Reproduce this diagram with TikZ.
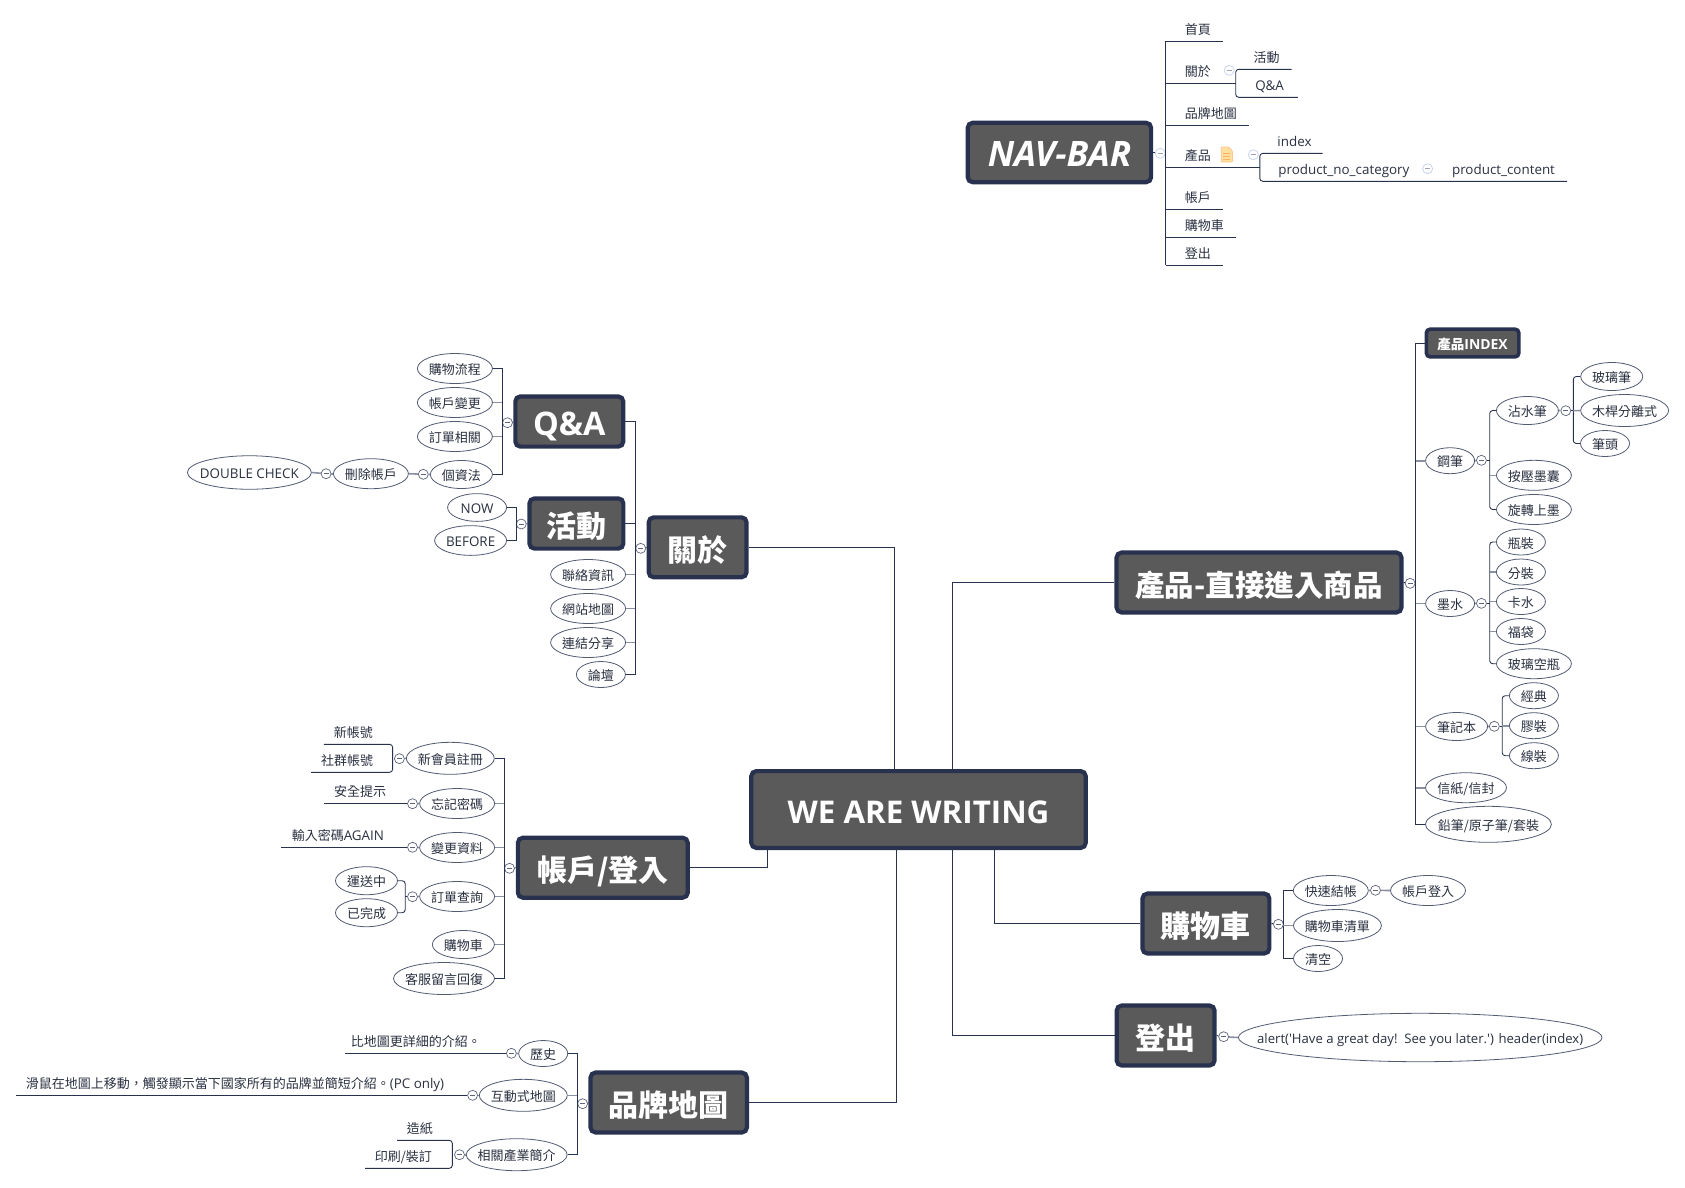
\documentclass[tikz,border=0pt]{standalone}
\usepackage{fontspec}
\setmainfont{Noto Sans CJK TC}
\newfontfamily\latinfont[Scale=1.03]{Open Sans}
\usetikzlibrary{shapes.geometric}
\definecolor{navy}{HTML}{28324F}
\definecolor{boxgray}{HTML}{5A5A5A}
\definecolor{stubgray}{HTML}{8A90A2}
\definecolor{inktext}{HTML}{2A3040}
\definecolor{paleblue}{HTML}{C4D0EC}
\begin{document}
\begin{tikzpicture}[x=1pt,y=-1pt,
    every node/.style={text=inktext,font=\fontsize{13}{15}\selectfont,text height=12.5pt,text depth=.5pt},
    topic/.style={draw=navy,fill=boxgray,line width=4.2pt,rounded corners=5pt,inner sep=0pt,text=white,font=\bfseries\fontsize{30}{36}\selectfont,text height=29.5pt,text depth=2.1pt},
    pill/.style={ellipse,draw=navy!80!white,line width=.8pt,fill=white,inner xsep=-42pt,inner ysep=-4pt},
    pilltwo/.style={pill,minimum width=49pt,minimum height=26pt},
    pillthree/.style={pill,minimum width=62pt,minimum height=28pt},
    pillfour/.style={pill,minimum width=75pt,minimum height=30pt},
    pillfive/.style={pill,minimum width=88pt,minimum height=32pt},
    pillsix/.style={pill,minimum width=101pt,minimum height=32pt},
    plain/.style={inner sep=0pt,text height=11.5pt,text depth=1.5pt},
    toggle/.style={circle,draw=navy!75!white,line width=.7pt,fill=white,inner sep=0pt,minimum size=10pt,text height=0pt,text depth=0pt,
        path picture={\draw[line width=.7pt,navy!75!white] ([xshift=-2.6pt]path picture bounding box.center) -- ([xshift=2.6pt]path picture bounding box.center);}},
    togglepale/.style={toggle,draw=paleblue,path picture={\draw[line width=.7pt,navy!45!white] ([xshift=-2.6pt]path picture bounding box.center) -- ([xshift=2.6pt]path picture bounding box.center);}},
    link/.style={draw=navy,line width=.9pt},
    roundlink/.style={link,rounded corners=3pt},
    stub/.style={draw=stubgray,line width=1.6pt}]
    \useasboundingbox (0,0) rectangle (1685,1187);

    % central topic and its branches
    \node[topic,minimum width=334.4pt,minimum height=76.8pt,font=\bfseries\fontsize{30.4}{36}\selectfont] (root) at (918.5,809.5) {\latinfont WE ARE WRITING};
    \node[topic,minimum width=97.9pt,minimum height=59.9pt] (about) at (697.6,547.3) {關於};
    \node[topic,minimum width=284.9pt,minimum height=59.9pt] (shop) at (1259,582.5) {\fontsize{29.5}{36}\selectfont 產品-直接進入商品};
    \node[topic,minimum width=169.9pt,minimum height=59.9pt] (account) at (602.8,867.7) {帳戶/登入};
    \node[topic,minimum width=126.9pt,minimum height=59.9pt] (cart) at (1205.9,923.5) {購物車};
    \node[topic,minimum width=97.9pt,minimum height=59.9pt] (logout) at (1165.6,1035.5) {登出};
    \node[topic,minimum width=156.4pt,minimum height=59.9pt] (brand) at (668.7,1102.5) {品牌地圖};
    \coordinate (rootA) at (894,769);
    \coordinate (rootB) at (952.7,769);
    \coordinate (rootC) at (767,850);
    \coordinate (rootD) at (896.3,850);
    \coordinate (rootE) at (952.7,850);
    \coordinate (rootF) at (994.3,850);
    \draw[link] (about.east) -| (rootA);
    \draw[link] (shop.west) -| (rootB);
    \draw[link] (account.east) -| (rootC);
    \draw[link] (brand.east) -| (rootD);
    \draw[link] (logout.west) -| (rootE);
    \draw[link] (cart.west) -| (rootF);

    % nav bar
    \node[topic,minimum width=183.4pt,minimum height=59.4pt,font=\bfseries\itshape\fontsize{34}{36}\selectfont] (nav) at (1059.4,152.5) {\latinfont NAV-BAR};
    \node[togglepale] (tgNav) at (1160.2,153.3) {};
    \draw[link] (nav.east) -- (tgNav);
    \node[plain] (navHome) at (1197.8,29.3) {首頁};
    \node[plain] (navAbout) at (1197.8,71.3) {關於};
    \node[plain] (navEvent) at (1266.7,57.3) {活動};
    \node[plain] (navQa) at (1269.6,85) {\latinfont Q\&A};
    \node[plain] (navBrand) at (1210.8,113) {品牌地圖};
    \node[plain] (navShop) at (1197.8,155.3) {產品};
    \node[plain] (navIndex) at (1294.5,141.7) {\latinfont index};
    \node[plain] (navNoCat) at (1343.9,169.7) {\latinfont product\_no\_category};
    \node[plain] (navContent) at (1503.5,169.7) {\latinfont product\_content};
    \node[plain] (navAccount) at (1197.8,197.3) {帳戶};
    \node[plain] (navCart) at (1204.3,225.7) {購物車};
    \node[plain] (navLogout) at (1197.8,253.3) {登出};
    \node[togglepale] (tgNavAbout) at (1229.2,70.3) {};
    \node[togglepale] (tgNavShop) at (1253.3,154.7) {};
    \node[togglepale] (tgNavNoCat) at (1427.6,168.7) {};
    \coordinate (navTop) at (1165.5,41.3);
    \coordinate (navBottom) at (1165.5,265.3);
    \draw[link] (navTop) -- (navBottom);
    \draw[link] (navTop) -- (1222.7,41.3);
    \draw[link] (navTop |- 0,83.3) -- (1235.7,83.3);
    \draw[roundlink] (1291.6,69.3) -| (1235.7,97.3) -- (1297.8,97.3);
    \draw[link] (navTop |- 0,125.3) -- (1248.8,125.3);
    \draw[link] (navTop |- 0,167.3) -- (1259.8,167.3);
    \draw[roundlink] (1322.7,153.3) -| (1259.8,181.3) -- (1567,181.3);
    \draw[link] (navTop |- 0,209.3) -- (1222.7,209.3);
    \draw[link] (navTop |- 0,237.3) -- (1235.7,237.3);
    \draw[link] (navBottom) -- (1222.7,265.3);
    % note icon
    \fill[yellow!35!orange!35!white,draw=orange!45!white,line width=.8pt,rounded corners=.8pt] (1221.2,147) -- (1228.5,147) -- (1232.4,151) -- (1232.4,162) -- (1221.2,162) -- cycle;
    \draw[orange!60!white,line width=1.1pt] (1223.3,153.5) -- (1230.3,153.5) (1223.3,156.3) -- (1230.3,156.3) (1223.3,159.1) -- (1230.3,159.1);

    % about
    \node[topic,minimum width=107.9pt,minimum height=50.2pt,font=\bfseries\fontsize{31.5}{36}\selectfont] (qa) at (569.3,421.5) {\latinfont Q\&A};
    \node[topic,minimum width=93.9pt,minimum height=50.2pt] (event) at (576.4,523.5) {活動};
    \node[pillfour] (contact) at (588.1,574.5) {聯絡資訊};
    \node[pillfour] (sitemap) at (588.1,608.5) {網站地圖};
    \node[pillfour] (share) at (588.1,642.5) {連結分享};
    \node[pilltwo] (forum) at (600.9,674.5) {論壇};
    \node[toggle] (tgAbout) at (640.7,548.3) {};
    \coordinate (tAbout) at (635.7,548.3);
    \draw[link] (about.west) -- (tgAbout);
    \draw[link] (tgAbout) -- (tAbout);
    \draw[stub] (tAbout |- contact.east) -- (contact.east);
    \draw[stub] (tAbout |- sitemap.east) -- (sitemap.east);
    \draw[stub] (tAbout |- share.east) -- (share.east);
    \draw[link] (tAbout |- event.east) -- (event.east);
    \draw[link] (tAbout) |- (qa.east);
    \draw[link] (tAbout) |- (forum.east);

    \node[pillfour] (flow) at (454.9,368.5) {購物流程};
    \node[pillfour] (change) at (454.9,402.5) {帳戶變更};
    \node[pillfour] (order) at (454.9,436.5) {訂單相關};
    \node[pillthree] (privacy) at (461.4,474.5) {個資法};
    \node[pillfour] (delete) at (370.9,473.7) {刪除帳戶};
    \node[pill,minimum width=124pt,minimum height=33.5pt] (double) at (249.4,472.5) {\latinfont DOUBLE CHECK};
    \node[toggle] (tgQa) at (507.5,422.7) {};
    \node[toggle] (tgPrivacy) at (423.3,474.3) {};
    \node[toggle] (tgDelete) at (326.1,473.7) {};
    \coordinate (tQa) at (502.2,422.7);
    \draw[link] (qa.west) -- (tgQa);
    \draw[link] (tgQa) -- (tQa);
    \draw[stub] (tQa |- change.east) -- (change.east);
    \draw[stub] (tQa |- order.east) -- (order.east);
    \draw[link] (tQa) |- (flow.east);
    \draw[link] (tQa) |- (privacy.east);
    \draw[stub] (privacy.west) -- (tgPrivacy);
    \draw[stub] (tgPrivacy) -- (delete.east);
    \draw[stub] (delete.west) -- (tgDelete);
    \draw[stub] (tgDelete) -- (double.east);

    \node[pill,minimum width=59pt,minimum height=27.7pt] (now) at (477.1,507.5) {\latinfont NOW};
    \node[pill,minimum width=72pt,minimum height=29.7pt] (before) at (470.6,540.5) {\latinfont BEFORE};
    \node[toggle] (tgEvent) at (521.3,524) {};
    \coordinate (tEvent) at (516.3,524);
    \draw[link] (event.west) -- (tgEvent);
    \draw[link] (tgEvent) -- (tEvent);
    \draw[link] (tEvent) |- (now.east);
    \draw[link] (tEvent) |- (before.east);

    % products
    \node[topic,minimum width=92.6pt,minimum height=27.8pt,line width=3.6pt,rounded corners=4pt,font=\bfseries\fontsize{13.5}{15}\selectfont,text height=12.5pt,text depth=.5pt] (shopIndex) at (1472.6,343) {產品{\latinfont INDEX}};
    \node[toggle] (tgShop) at (1410.1,583.3) {};
    \coordinate (tShop) at (1415.5,583.3);
    \node[pilltwo] (nib) at (1450.1,460.7) {鋼筆};
    \node[pilltwo] (ink) at (1450.1,603.5) {墨水};
    \node[pillthree] (notebook) at (1456.6,726.5) {筆記本};
    \node[pill,minimum width=81pt,minimum height=30pt] (letter) at (1466,787.7) {信紙/信封};
    \node[pill,minimum width=126pt,minimum height=36pt] (pencil) at (1488.4,824.3) {鉛筆/原子筆/套裝};
    \draw[link] (shop.east) -- (tgShop);
    \draw[link] (tgShop) -- (tShop);
    \draw[stub] (tShop |- nib.west) -- (nib.west);
    \draw[stub] (tShop |- ink.west) -- (ink.west);
    \draw[stub] (tShop |- notebook.west) -- (notebook.west);
    \draw[stub] (tShop |- letter.west) -- (letter.west);
    \draw[link] (tShop) |- (shopIndex.west);
    \draw[link] (tShop) |- (pencil.west);

    \node[pillthree] (dip) at (1527.4,410.5) {沾水筆};
    \node[pillfour] (press) at (1533.9,475.3) {按壓墨囊};
    \node[pillfour] (twist) at (1533.9,509.5) {旋轉上墨};
    \node[pillthree] (glass) at (1611.7,376.5) {玻璃筆};
    \node[pillfive] (wood) at (1624.6,410.5) {木桿分離式};
    \node[pilltwo] (tip) at (1605,443.5) {筆頭};
    \node[toggle] (tgNib) at (1481.4,460.3) {};
    \node[toggle] (tgDip) at (1565.8,410.7) {};
    \coordinate (tNib) at (1489.7,460.3);
    \coordinate (tDip) at (1573.3,410.7);
    \draw[stub] (nib.east) -- (tgNib);
    \draw[link] (tgNib) -- (tNib);
    \draw[roundlink] (tNib) |- (dip.west);
    \draw[roundlink] (tNib) |- (twist.west);
    \draw[stub] (tNib |- press.west) -- (press.west);
    \draw[stub] (dip.east) -- (tgDip);
    \draw[link] (tgDip) -- (tDip);
    \draw[roundlink] (tDip) |- (glass.west);
    \draw[roundlink] (tDip) |- (tip.west);
    \draw[stub] (tDip) -- (wood.west);

    \node[pilltwo] (bottle) at (1520.9,542) {瓶裝};
    \node[pilltwo] (split) at (1520.9,572) {分裝};
    \node[pilltwo] (card) at (1520.9,601.5) {卡水};
    \node[pilltwo] (bag) at (1520.9,631.5) {福袋};
    \node[pillfour] (empty) at (1533.9,663.7) {玻璃空瓶};
    \node[toggle] (tgInk) at (1481.4,603.3) {};
    \coordinate (tInk) at (1489.7,603.3);
    \draw[stub] (ink.east) -- (tgInk);
    \draw[link] (tgInk) -- (tInk);
    \draw[roundlink] (tInk) |- (bottle.west);
    \draw[roundlink] (tInk) |- (empty.west);
    \draw[stub] (tInk |- split.west) -- (split.west);
    \draw[stub] (tInk |- card.west) -- (card.west);
    \draw[stub] (tInk |- bag.west) -- (bag.west);

    \node[pilltwo] (classic) at (1533.9,695.7) {經典};
    \node[pilltwo] (glue) at (1533.9,725.7) {膠裝};
    \node[pilltwo] (thread) at (1533.9,755.7) {線裝};
    \node[toggle] (tgNote) at (1494.3,726.3) {};
    \coordinate (tNote) at (1502.2,726.3);
    \draw[stub] (notebook.east) -- (tgNote);
    \draw[link] (tgNote) -- (tNote);
    \draw[roundlink] (tNote) |- (classic.west);
    \draw[roundlink] (tNote) |- (thread.west);
    \draw[stub] (tNote |- glue.west) -- (glue.west);

    % cart
    \node[pillfour] (quick) at (1330.8,890.5) {快速結帳};
    \node[pillfour] (login) at (1428,890.5) {帳戶登入};
    \node[pillfive] (cartList) at (1337.4,925.5) {購物車清單};
    \node[pilltwo] (clear) at (1318,958.5) {清空};
    \node[toggle] (tgCart) at (1278.4,924.3) {};
    \node[toggle] (tgQuick) at (1375.5,890.3) {};
    \coordinate (tCart) at (1283.2,924.3);
    \draw[link] (cart.east) -- (tgCart);
    \draw[link] (tgCart) -- (tCart);
    \draw[link] (tCart) |- (quick.west);
    \draw[link] (tCart) |- (clear.west);
    \draw[stub] (tCart |- cartList.west) -- (cartList.west);
    \draw[stub] (quick.east) -- (tgQuick);
    \draw[stub] (tgQuick) -- (login.west);

    % logout
    \node[pill,minimum width=363.6pt,minimum height=48.4pt,font=\fontsize{12.75}{15}\selectfont] (alert) at (1420.2,1037.5) {\latinfont alert('Have a great day!\ \ See you later.') header(index)};
    \node[toggle] (tgLogout) at (1223.6,1036.7) {};
    \draw[link] (logout.east) -- (tgLogout);
    \draw[stub] (tgLogout) -- (alert.west);

    % account
    \node[pillfive] (signup) at (450.3,758.3) {新會員註冊};
    \node[pillfour] (forgot) at (457.1,803.5) {忘記密碼};
    \node[pillfour] (edit) at (457.1,847.5) {變更資料};
    \node[pillfour] (query) at (457.1,896.5) {訂單查詢};
    \node[pillthree] (accCart) at (463.4,944.5) {購物車};
    \node[pillsix] (service) at (444,978.5) {客服留言回復};
    \node[toggle] (tgAccount) at (509.5,868.3) {};
    \coordinate (tAccount) at (504.1,868.3);
    \draw[link] (account.west) -- (tgAccount);
    \draw[link] (tgAccount) -- (tAccount);
    \draw[link] (tAccount) |- (signup.east);
    \draw[link] (tAccount) |- (service.east);
    \draw[stub] (tAccount |- forgot.east) -- (forgot.east);
    \draw[stub] (tAccount |- edit.east) -- (edit.east);
    \draw[stub] (tAccount |- query.east) -- (query.east);
    \draw[stub] (tAccount |- accCart.east) -- (accCart.east);

    \node[plain] (newId) at (353.4,732.3) {新帳號};
    \node[plain] (socialId) at (347,760.3) {社群帳號};
    \node[toggle] (tgSignup) at (399.4,758.7) {};
    \draw[stub] (signup.west) -- (tgSignup);
    \draw[roundlink] (323.8,744.3) -| (392.6,772.3) -- (311.2,772.3);
    \node[plain] (safe) at (360.2,791.3) {安全提示};
    \node[toggle] (tgForgot) at (412.5,803.7) {};
    \draw[stub] (forgot.west) -- (tgForgot);
    \coordinate (safeEnd) at (323.8,803.7);
    \draw[link] (tgForgot) -- (safeEnd);
    \node[plain] (again) at (337.9,835.3) {輸入密碼{\latinfont AGAIN}};
    \node[toggle] (tgEdit) at (412.5,847.3) {};
    \draw[stub] (edit.west) -- (tgEdit);
    \coordinate (againEnd) at (281.1,847.3);
    \draw[link] (tgEdit) -- (againEnd);
    \node[pillthree] (shipping) at (366.5,880.7) {運送中};
    \node[pillthree] (done) at (366.5,912.7) {已完成};
    \node[toggle] (tgQuery) at (412.5,896.7) {};
    \coordinate (tQuery) at (405.2,896.7);
    \draw[stub] (query.west) -- (tgQuery);
    \draw[link] (tgQuery) -- (tQuery);
    \draw[roundlink] (tQuery) |- (shipping.east);
    \draw[roundlink] (tQuery) |- (done.east);

    % brand map
    \node[pilltwo] (history) at (543.2,1053.5) {歷史};
    \node[pillfive] (map) at (523.3,1095.3) {互動式地圖};
    \node[pillsix] (industry) at (516.7,1154.7) {相關產業簡介};
    \node[toggle] (tgBrand) at (582.6,1103.7) {};
    \coordinate (tBrand) at (577.3,1103.7);
    \draw[link] (brand.west) -- (tgBrand);
    \draw[link] (tgBrand) -- (tBrand);
    \draw[link] (tBrand) |- (history.east);
    \draw[link] (tBrand) |- (industry.east);
    \draw[stub] (tBrand |- map.east) -- (map.east);

    \node[plain] (detail) at (415.9,1041.3) {比地圖更詳細的介紹。};
    \node[toggle] (tgHistory) at (511.4,1053.3) {};
    \draw[stub] (history.west) -- (tgHistory);
    \coordinate (detailEnd) at (345.1,1053.3);
    \draw[link] (tgHistory) -- (detailEnd);
    \node[plain] (hover) at (235,1083.7) {滑鼠在地圖上移動，觸發顯示當下國家所有的品牌並簡短介紹。{\latinfont (PC only)}};
    \node[toggle] (tgMap) at (472.6,1095.3) {};
    \draw[stub] (map.west) -- (tgMap);
    \coordinate (hoverEnd) at (16,1095.3);
    \draw[link] (tgMap) -- (hoverEnd);
    \node[plain] (paper) at (419.8,1128.7) {造紙};
    \node[plain] (printing) at (403.3,1156.3) {印刷/裝訂};
    \node[toggle] (tgIndustry) at (459.5,1154.7) {};
    \draw[stub] (industry.west) -- (tgIndustry);
    \draw[roundlink] (397,1140.3) -| (452.3,1168.3) -- (365,1168.3);
\end{tikzpicture}
\end{document}
